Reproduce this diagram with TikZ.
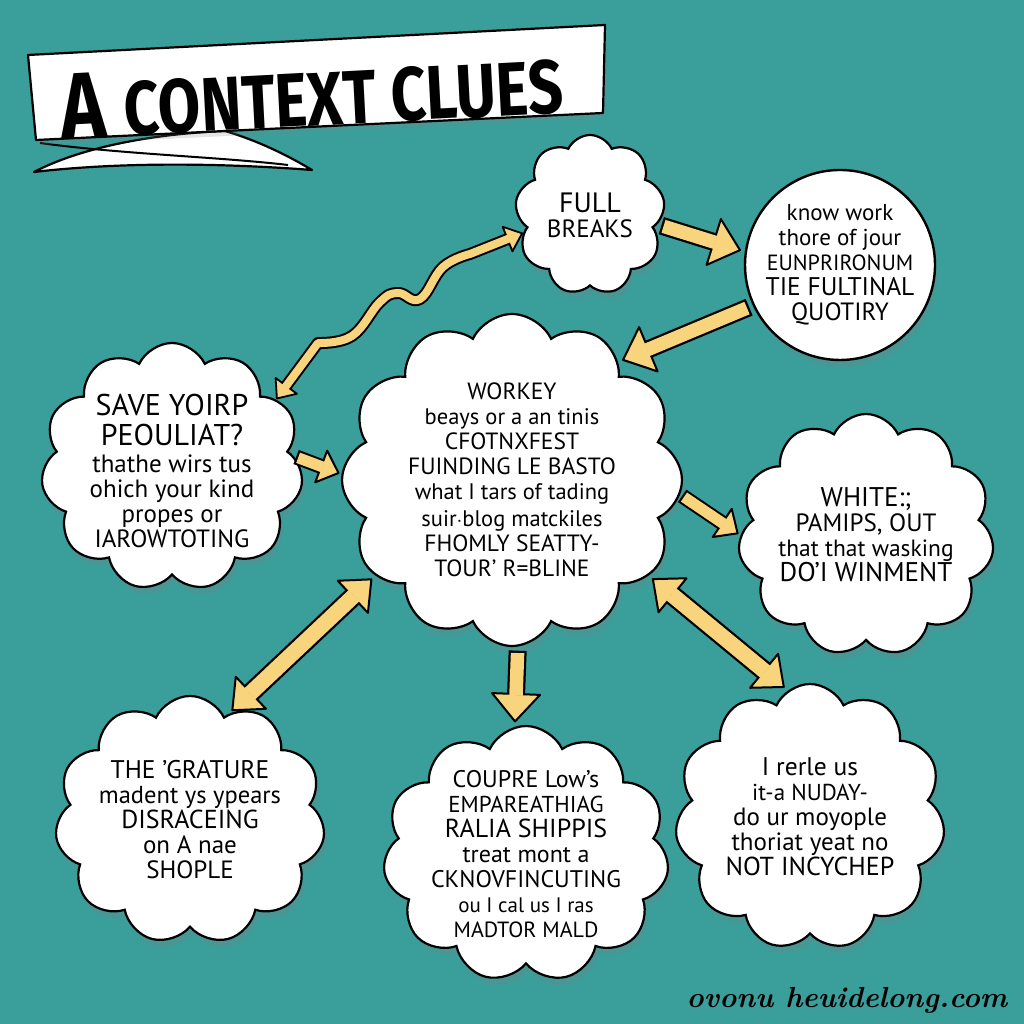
\documentclass[tikz,border=0pt]{standalone}
\usepackage{fontspec}
\setsansfont{PT Sans}
\newfontfamily\titlefont[FakeStretch=0.81]{Fira Sans}
\usetikzlibrary{shapes.symbols, shadows, arrows.meta, positioning, calc}

\definecolor{tealbg}{HTML}{3A9E9B}
\definecolor{arrowyel}{HTML}{F8D57C}

\newcommand{\sz}[1]{\fontsize{#1}{25}\selectfont}

\tikzset{
  puff/.style={cloud, cloud puffs=#1, cloud puff arc=130, cloud ignores aspect,
    draw=black, line width=2.2pt, fill=white, inner sep=0pt,
    drop shadow={opacity=0.22, shadow xshift=3pt, shadow yshift=-7pt}},
  puff/.default=11,
  bubble/.style={circle, draw=black, line width=2.4pt, fill=white,
    drop shadow={opacity=0.22, shadow xshift=3pt, shadow yshift=-7pt}},
  words/.style={font=\sffamily\sz{24}, align=center, inner sep=0pt},
  ribbon/.style={draw=black, line width=2.2pt, fill=white, line join=round},
  bighead/.tip={Triangle[length=30pt, width=52pt, fill=arrowyel, line width=2pt, round]},
  smallhead/.tip={Triangle[length=21pt, width=38pt, fill=arrowyel, line width=2pt, round]},
  dblhead/.tip={Triangle[length=28pt, width=48pt, fill=arrowyel, line width=2pt, round]},
  wavehead/.tip={Triangle[length=18pt, width=30pt, fill=arrowyel, line width=1.8pt, round]},
  bigarrow/.style={draw=black, line width=18pt, -bighead, shorten <=#1, shorten >=#1,
    postaction={draw=arrowyel, line width=13.5pt, -, shorten <=#1+2.3pt, shorten >=#1+27pt}},
  smallarrow/.style={draw=black, line width=15pt, -smallhead, shorten <=#1, shorten >=#1,
    postaction={draw=arrowyel, line width=11pt, -, shorten <=#1+2.2pt, shorten >=#1+18pt}},
  bothways/.style={draw=black, line width=20pt, dblhead-dblhead, shorten <=#1, shorten >=#1,
    postaction={draw=arrowyel, line width=15.5pt, -, shorten <=#1+25pt, shorten >=#1+25pt}},
  wavy/.style={draw=black, line width=12pt, wavehead-wavehead, line join=round,
    postaction={draw=arrowyel, line width=8pt, -, line join=round, shorten <=15pt, shorten >=15pt}},
}

\begin{document}
\begin{tikzpicture}[x=1pt, y=1pt]
\useasboundingbox (0,0) rectangle (1024,1024);
\fill[tealbg] (0,0) rectangle (1024,1024);

% title banner
\filldraw[ribbon] (34,852) .. controls (80,876) and (150,890) .. (225,893)
  .. controls (262,882) and (292,866) .. (312,854)
  .. controls (220,861) and (120,862) .. cycle;
\draw[line width=2pt] (40,881) .. controls (120,870) and (220,867) .. (288,859);
\filldraw[ribbon, drop shadow={opacity=0.2, shadow xshift=3pt, shadow yshift=-5pt}]
  (28,969) -- (605,999) -- (603,911) -- (36,884) -- cycle;
\node[rotate=3, inner sep=0pt, font=\titlefont\bfseries] (title) at (312,930)
  {\fontsize{94}{94}\selectfont A\hspace{18pt}\fontsize{76}{76}\selectfont CONTEXT CLUES};

% clouds
\node[puff=9, minimum width=150, minimum height=160] (full) at (590,809) {};
\node[bubble, minimum size=190] (quality) at (840,759) {};
\node[puff, minimum width=262, minimum height=248] (save) at (172,557) {};
\node[puff=12, minimum width=340, minimum height=332] (main) at (512,544) {};
\node[puff, minimum width=256, minimum height=242] (white) at (866,489) {};
\node[puff, minimum width=270, minimum height=248] (grature) at (190,204) {};
\node[puff, minimum width=286, minimum height=256] (coupre) at (526,170) {};
\node[puff, minimum width=270, minimum height=266] (rerle) at (810,207) {};

% texts
\node[words] (full-t) at (full) {\sz{28}FULL\\\sz{25}BREAKS};
\node[words] (quality-t) at (quality) {\sz{23}know work\\\sz{23}thore of jour\\\sz{22}EUNPRIRONUM\\\sz{25.5}TIE FULTINAL\\\sz{25}QUOTIRY};
\node[words] (save-t) at ([yshift=-4pt]save) {\sz{30}SAVE YOIRP\\[5pt]\sz{30}PEOULIAT?\\[2pt]\sz{25}thathe wirs tus\\\sz{25}ohich your kind\\\sz{25}propes or\\\sz{25}IAROWTOTING};
\node[words] (main-t) at (main) {\sz{23.5}WORKEY\\\sz{22.5}beays or a an tinis\\\sz{23.5}CFOTNXFEST\\\sz{23.5}FUINDING LE BASTO\\\sz{22.5}what I tars of tading\\[2pt]\sz{22.5}suir$\cdot$blog matckiles\\\sz{23.5}FHOMLY SEATTY-\\\sz{23.5}TOUR' R=BLINE};
\node[words] (white-t) at (white) {\sz{27}WHITE:;\\\sz{25}PAMIPS, OUT\\\sz{23.5}that that wasking\\\sz{27}DO'I WINMENT};
\node[words] (grature-t) at (grature) {\sz{25.5}THE 'GRATURE\\\sz{24.5}madent ys ypears\\\sz{26}DISRACEING\\\sz{25}on A nae\\\sz{25}SHOPLE};
\node[words] (coupre-t) at (coupre) {\sz{24}COUPRE Low's\\\sz{23}EMPAREATHIAG\\\sz{26}RALIA SHIPPIS\\\sz{24}treat mont a\\\sz{24}CKNOVFINCUTING\\\sz{21}ou I cal us I ras\\\sz{22}MADTOR MALD};
\node[words] (rerle-t) at (rerle) {\sz{25.5}I rerle us\\\sz{23}it-a NUDAY-\\\sz{25}do ur moyople\\\sz{25}thoriat yeat no\\\sz{26}NOT INCYCHEP};

% arrows
\draw[bigarrow=4pt] (full.-8) -- (quality.172);
\draw[bigarrow=4pt] (quality.205) -- (main.48);
\draw[smallarrow=2pt] (save.5) -- (main.178);
\draw[smallarrow=2pt] (main.-5) -- (white.180);
\draw[bothways=4pt] (main.215) -- (grature.70);
\draw[bigarrow=4pt] (main.272) -- (coupre.95);
\draw[bothways=4pt] (main.-35) -- (rerle.100);
\draw[wavy] (save.33) -- plot[smooth, tension=0.7] coordinates {(318,681) (352,688) (380,722) (398,731) (420,725) (443,757) (470,770)} -- (full.195);

\node[font=\rmfamily\bfseries\itshape\fontsize{29}{29}\selectfont, inner sep=0pt] (site) at (847,24) {ovonu heuidelong.com};
\end{tikzpicture}
\end{document}
